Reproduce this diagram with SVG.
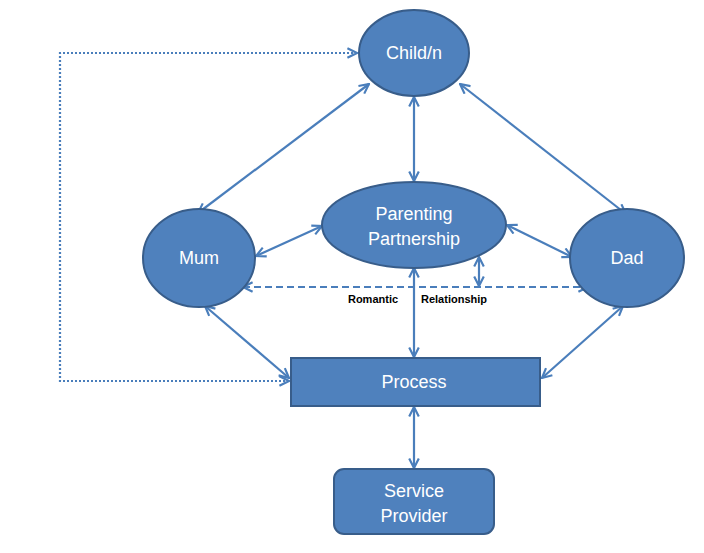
<svg xmlns="http://www.w3.org/2000/svg" width="704" height="553" viewBox="0 0 704 553">
<style>
.node{fill:#4f81bd;stroke:#385d8a;stroke-width:2}
.t{fill:#fff;font-family:"Liberation Sans",Arial,sans-serif;font-size:18px;text-anchor:middle}
.c{fill:none;stroke:#4a7ebb;stroke-width:2.2}
.dash{stroke-dasharray:7 4}
.dot{stroke-dasharray:2 2}
.lbl{fill:#000;font-family:"Liberation Sans",Arial,sans-serif;font-size:11px;font-weight:bold;text-anchor:middle}
</style>
<defs>
<marker id="a" viewBox="0 0 10 10" refX="9" refY="5" markerWidth="12" markerHeight="12" markerUnits="userSpaceOnUse" orient="auto-start-reverse">
<path d="M1,1 L9,5 L1,9" fill="none" stroke="#4a7ebb" stroke-width="1.8"/>
</marker>
</defs>
<rect width="704" height="553" fill="#fff"/>
<g id="connectors">
<line class="c" x1="198" y1="213" x2="369" y2="84" marker-start="url(#a)" marker-end="url(#a)"/>
<line class="c" x1="414" y1="97" x2="414" y2="181" marker-start="url(#a)" marker-end="url(#a)"/>
<line class="c" x1="460" y1="84" x2="626" y2="214" marker-start="url(#a)" marker-end="url(#a)"/>
<line class="c" x1="256" y1="256" x2="322" y2="226" marker-start="url(#a)" marker-end="url(#a)"/>
<line class="c" x1="507" y1="225" x2="572" y2="257" marker-start="url(#a)" marker-end="url(#a)"/>
<line class="c dash" x1="243" y1="287" x2="588" y2="287" marker-start="url(#a)" marker-end="url(#a)"/>
<line class="c" x1="479" y1="257" x2="479" y2="286" marker-start="url(#a)" marker-end="url(#a)"/>
<line class="c" x1="414" y1="268" x2="414" y2="357" marker-start="url(#a)" marker-end="url(#a)"/>
<line class="c" x1="205" y1="306" x2="289" y2="378" marker-start="url(#a)" marker-end="url(#a)"/>
<line class="c" x1="623" y1="306" x2="542" y2="378" marker-start="url(#a)" marker-end="url(#a)"/>
<line class="c" x1="414" y1="407" x2="414" y2="468" marker-start="url(#a)" marker-end="url(#a)"/>
<polyline class="c dot" points="289,381 60,381 60,53 357,53" marker-start="url(#a)" marker-end="url(#a)"/>
<text class="lbl" x="373" y="303">Romantic</text>
<text class="lbl" x="454" y="303">Relationship</text>
</g>
<g id="child">
<ellipse class="node" cx="414" cy="53" rx="55" ry="43"/>
<text class="t" x="414" y="59">Child/n</text>
</g>
<g id="partnership">
<ellipse class="node" cx="414" cy="225" rx="92" ry="43"/>
<text class="t" x="414" y="220">Parenting</text>
<text class="t" x="414" y="245">Partnership</text>
</g>
<g id="mum">
<ellipse class="node" cx="199" cy="258" rx="56" ry="49"/>
<text class="t" x="199" y="264">Mum</text>
</g>
<g id="dad">
<ellipse class="node" cx="627" cy="258" rx="57" ry="49"/>
<text class="t" x="627" y="264">Dad</text>
</g>
<g id="process">
<rect class="node" x="291" y="358" width="249" height="48"/>
<text class="t" x="414" y="388">Process</text>
</g>
<g id="service">
<rect class="node" x="334" y="469" width="160" height="65" rx="10"/>
<text class="t" x="414" y="497">Service</text>
<text class="t" x="414" y="522">Provider</text>
</g>
</svg>
